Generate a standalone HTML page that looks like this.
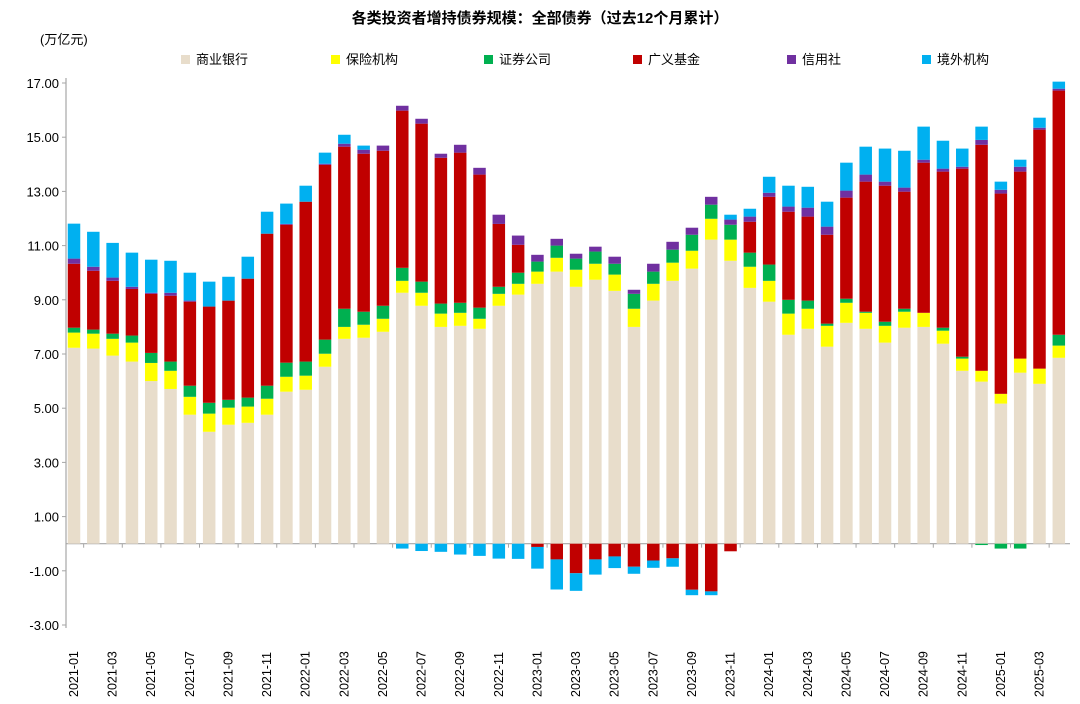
<!DOCTYPE html>
<html><head><meta charset="utf-8">
<style>
body{margin:0;background:#fff;}
svg{display:block;font-family:"Liberation Sans","Noto Sans CJK SC",sans-serif;}
</style></head>
<body>
<svg id="chart" width="1080" height="704">
<text x="540" y="23" text-anchor="middle" font-size="15" font-weight="bold" fill="#000">各类投资者增持债券规模：全部债券（过去12个月累计）</text>
<text x="40" y="44" font-size="13" fill="#000">(万亿元)</text>
<g id="legend"></g>
<g id="axes"></g>
<g id="bars"></g>
</svg>
<script>
const seriesNames=["商业银行","保险机构","证券公司","广义基金","信用社","境外机构"];
const seriesColors=["#E8DDCB","#FFFF00","#00B050","#C00000","#7030A0","#00B0F0"];
const yTicks=[17,15,13,11,9,7,5,3,1,-1,-3];
const bank=[7.23,7.2,6.94,6.72,6.0,5.71,4.76,4.13,4.39,4.46,4.76,5.61,5.68,6.53,7.56,7.6,7.82,9.26,8.78,8.0,8.04,7.93,8.78,9.19,9.59,10.04,9.48,9.74,9.33,8.0,8.97,9.7,10.15,11.22,10.44,9.44,8.93,7.71,7.93,7.27,8.15,7.93,7.42,7.97,8.0,7.38,6.38,5.98,5.17,6.31,5.9,6.86];
const insurance=[.56,.55,.62,.70,.67,.67,.66,.67,.63,.60,.59,.55,.52,.48,.44,.48,.48,.44,.48,.49,.48,.37,.44,.40,.45,.51,.63,.59,.60,.67,.62,.67,.66,.77,.78,.78,.77,.78,.74,.77,.74,.59,.62,.59,.52,.48,.45,.40,.36,.52,.56,.45];
const securities=[.18,.15,.19,.26,.37,.34,.41,.40,.29,.33,.48,.52,.52,.52,.67,.48,.48,.48,.41,.37,.37,.41,.26,.41,.37,.45,.41,.45,.40,.55,.45,.48,.59,.52,.55,.52,.60,.51,.30,.08,.15,.04,.15,.11,0,.11,.07,-.05,-.18,-.18,0,.40];
const funds=[2.36,2.17,1.95,1.72,2.18,2.43,3.10,3.55,3.66,4.39,5.61,5.09,5.90,6.45,5.98,5.83,5.72,5.80,5.83,5.38,5.54,4.91,2.32,1.03,-.12,-.58,-1.09,-.58,-.47,-.85,-.62,-.54,-1.7,-1.76,-.28,1.14,2.50,3.25,3.10,3.28,3.73,4.80,5.02,4.32,5.54,5.76,6.94,8.34,7.39,6.90,8.82,9.01];
const creditUnions=[.19,.15,.12,.08,.04,.11,.04,0,0,0,0,.03,0,.04,.11,.15,.19,.18,.18,.15,.29,.25,.34,.34,.25,.25,.18,.18,.26,.15,.29,.29,.26,.29,.19,.19,.15,.19,.33,.30,.26,.26,.15,.15,.11,.11,.07,.18,.14,.18,.07,.07];
const foreign=[1.29,1.29,1.28,1.26,1.22,1.18,1.03,.92,.88,.81,.81,.75,.59,.41,.33,.15,0,-.18,-.27,-.3,-.4,-.45,-.55,-.56,-.8,-1.11,-.65,-.56,-.43,-.26,-.27,-.31,-.2,-.14,.18,.29,.59,.77,.77,.92,1.03,1.03,1.22,1.36,1.22,1.03,.67,.49,.30,.26,.37,.26];
const series=[bank,insurance,securities,funds,creditUnions,foreign];
const months=[];
for(let y=2021;y<=2025;y++)for(let m=1;m<=12;m++){if(months.length<bank.length)months.push(y+"-"+String(m).padStart(2,"0"));}

const NS="http://www.w3.org/2000/svg";
const X0=66,X1=1070,Y17=83,Ym3=625;
const yScale=v=>Y17+(17-v)*(Ym3-Y17)/20;
const step=19.31,bw=12.5;
const xScale=i=>74+step*i;
function mk(tag,attrs,parent){const e=document.createElementNS(NS,tag);for(const k in attrs)e.setAttribute(k,attrs[k]);parent.appendChild(e);return e;}

const axes=document.getElementById("axes");
let yl=mk("line",{x1:X0,y1:Y17-5,x2:X0,y2:Ym3+3,stroke:"#A6A6A6","stroke-width":1.2},axes);


yTicks.forEach(t=>{
  const y=yScale(t);
  const tk=mk("line",{x1:X0-4,y1:y,x2:X0,y2:y,stroke:"#A6A6A6"},axes);
  
  
  const tx=mk("text",{x:X0-7,y:y+5,"text-anchor":"end","font-size":13,fill:"#000"},axes);
  tx.textContent=t.toFixed(2);
  
  
});
const bars=document.getElementById("bars");
months.forEach((m,i)=>{
  const cx=xScale(i);
  let pos=0,neg=0;
  series.forEach((s,k)=>{
    const v=s[i];if(!v)return;
    let a,b;
    if(v>0){a=pos;b=pos+v;pos=b;}else{a=neg;b=neg+v;neg=b;}
    const y1=yScale(Math.max(a,b)),y2=yScale(Math.min(a,b));
    const r=mk("rect",{x:cx-bw/2,y:y1,width:bw,height:Math.max(0.5,y2-y1),fill:seriesColors[k]},bars);
    
    
  });
});
const zl=mk("line",{x1:X0,y1:yScale(0),x2:X1,y2:yScale(0),stroke:"#A6A6A6","stroke-width":1.2},axes);


months.forEach((m,i)=>{
  if(i%2===0){
    const x=xScale(i)+step/2;
    const t=mk("line",{x1:x,y1:yScale(0),x2:x,y2:yScale(0)+4,stroke:"#A6A6A6"},axes);
    
    
    const cx=xScale(i)+4,cy=697;
    const tx=mk("text",{x:cx,y:cy,"font-size":12.5,fill:"#000",transform:"rotate(-90 "+cx+" "+cy+")"},axes);
    tx.textContent=m;
    
    
  }
});
const leg=document.getElementById("legend");
const legX=[181,331,484,633,787,922];
seriesNames.forEach((n,k)=>{
  const r=mk("rect",{x:legX[k],y:55,width:9,height:9,fill:seriesColors[k]},leg);
  
  
  const t=mk("text",{x:legX[k]+15,y:64,"font-size":13,fill:"#000"},leg);
  t.textContent=n;
  
  
});
</script>
</body></html>
